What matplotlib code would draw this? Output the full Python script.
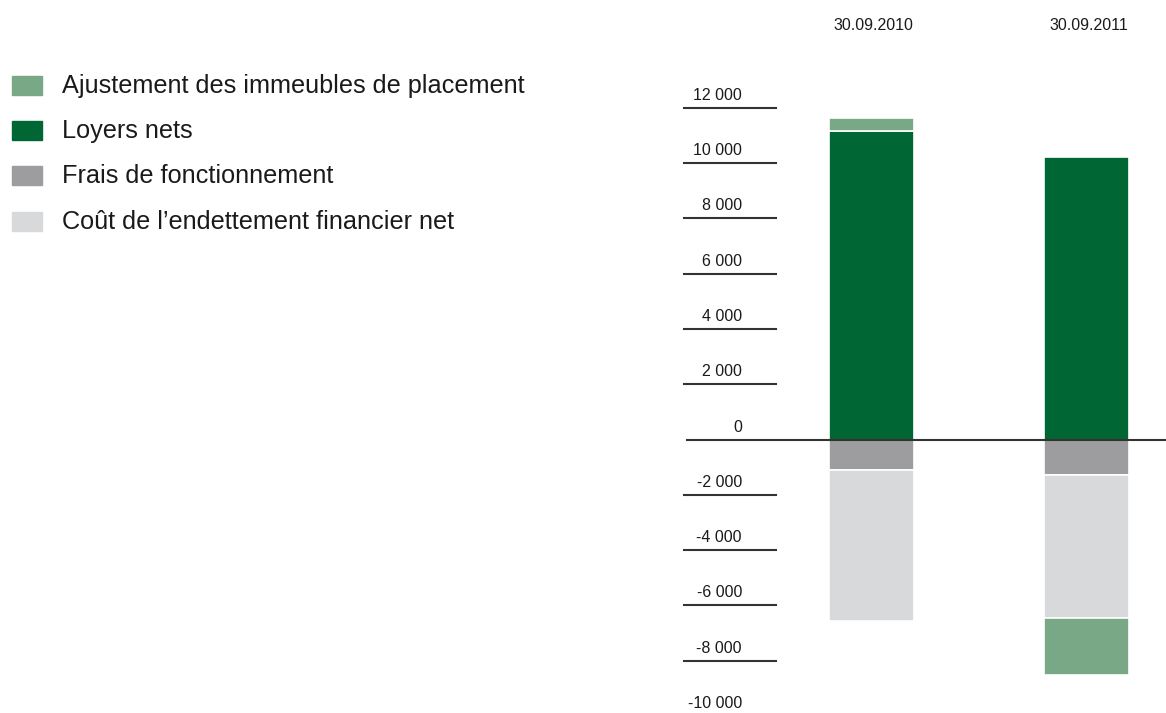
import matplotlib
matplotlib.use("Agg")
import matplotlib.pyplot as plt
from matplotlib.patches import Rectangle
import matplotlib.transforms as mtransforms

plt.rcParams['font.family'] = ['Liberation Sans', 'DejaVu Sans']

# data (k EUR)
dates = ["30.09.2010", "30.09.2011"]
loyers = [11170, 10200]
ajust = [450, -2060]
frais = [-1100, -1285]
cout = [-5450, -5170]

series_names = ["Ajustement des immeubles de placement", "Loyers nets",
                "Frais de fonctionnement", "Coût de l\u2019endettement financier net"]
c_ajust = "#78a886"
c_loyers = "#006633"
c_frais = "#9d9d9f"
c_cout = "#d8d9db"
colors = [c_ajust, c_loyers, c_frais, c_cout]

yticks = [12000, 10000, 8000, 6000, 4000, 2000, 0, -2000, -4000, -6000, -8000, -10000]

W, H = 1166, 713
fig = plt.figure(figsize=(W / 100, H / 100), dpi=100)

# bar axes, pixel-matched to the reference
x0 = 680
ax = fig.add_axes([x0 / W, 0, (W - x0) / W, 1])
step = 215.0
c0 = 871.5
ax.set_xlim((x0 - c0) / step, (W - c0) / step)
ppk = 27.65  # px per 1000
zero_px = 439.5
ax.set_ylim(-(H - zero_px) / ppk * 1000, zero_px / ppk * 1000)
ax.axis("off")

xs = list(range(len(dates)))
bw = 85 / step
kw = dict(width=bw, edgecolor="white", linewidth=1.2)

ax.bar(xs, loyers, color=c_loyers, **kw)
ax.bar(xs, frais, color=c_frais, **kw)
ax.bar(xs, cout, bottom=frais, color=c_cout, **kw)
for i in xs:
    if ajust[i] >= 0:
        ax.bar(i, ajust[i], bottom=loyers[i], color=c_ajust, **kw)
    else:
        ax.bar(i, ajust[i], bottom=frais[i] + cout[i], color=c_ajust, **kw)

# zero line
ax.axhline(0, xmin=7 / (W - x0), xmax=1, color="#333333", linewidth=1.5)

# y ticks: short lines with labels above
trans = mtransforms.blended_transform_factory(ax.transAxes, ax.transData)
lx0 = 4 / (W - x0)
lx1 = 96 / (W - x0)
for v in yticks:
    if v != 0:
        ax.plot([lx0, lx1], [v, v], transform=trans, color="#333333",
                linewidth=1.5, clip_on=False)
    lab = "{:,}".format(v).replace(",", " ")
    ax.annotate(lab, xy=(62 / (W - x0), v), xycoords=trans,
                xytext=(0, 9), textcoords="offset points",
                ha="right", va="center", fontsize=11.5, color="#1a1a1a",
                annotation_clip=False)

# date labels on top
top_trans = mtransforms.blended_transform_factory(ax.transData, ax.transAxes)
for i, d in enumerate(dates):
    ax.text(i + 0.01, 1 - 25 / H, d, transform=top_trans,
            ha="center", va="center", fontsize=11.5, color="#1a1a1a")

# legend
ys = [86, 131, 176, 222]
for name, col, yc in zip(series_names, colors, ys):
    fig.patches.append(Rectangle((12 / W, 1 - (yc - 1 + 9.5) / H), 30 / W, 19 / H,
                                 transform=fig.transFigure, color=col))
    fig.text(62 / W, 1 - yc / H, name, ha="left", va="center",
             fontsize=18.2, color="#1a1a1a")

fig.savefig("out.png", dpi=100)
